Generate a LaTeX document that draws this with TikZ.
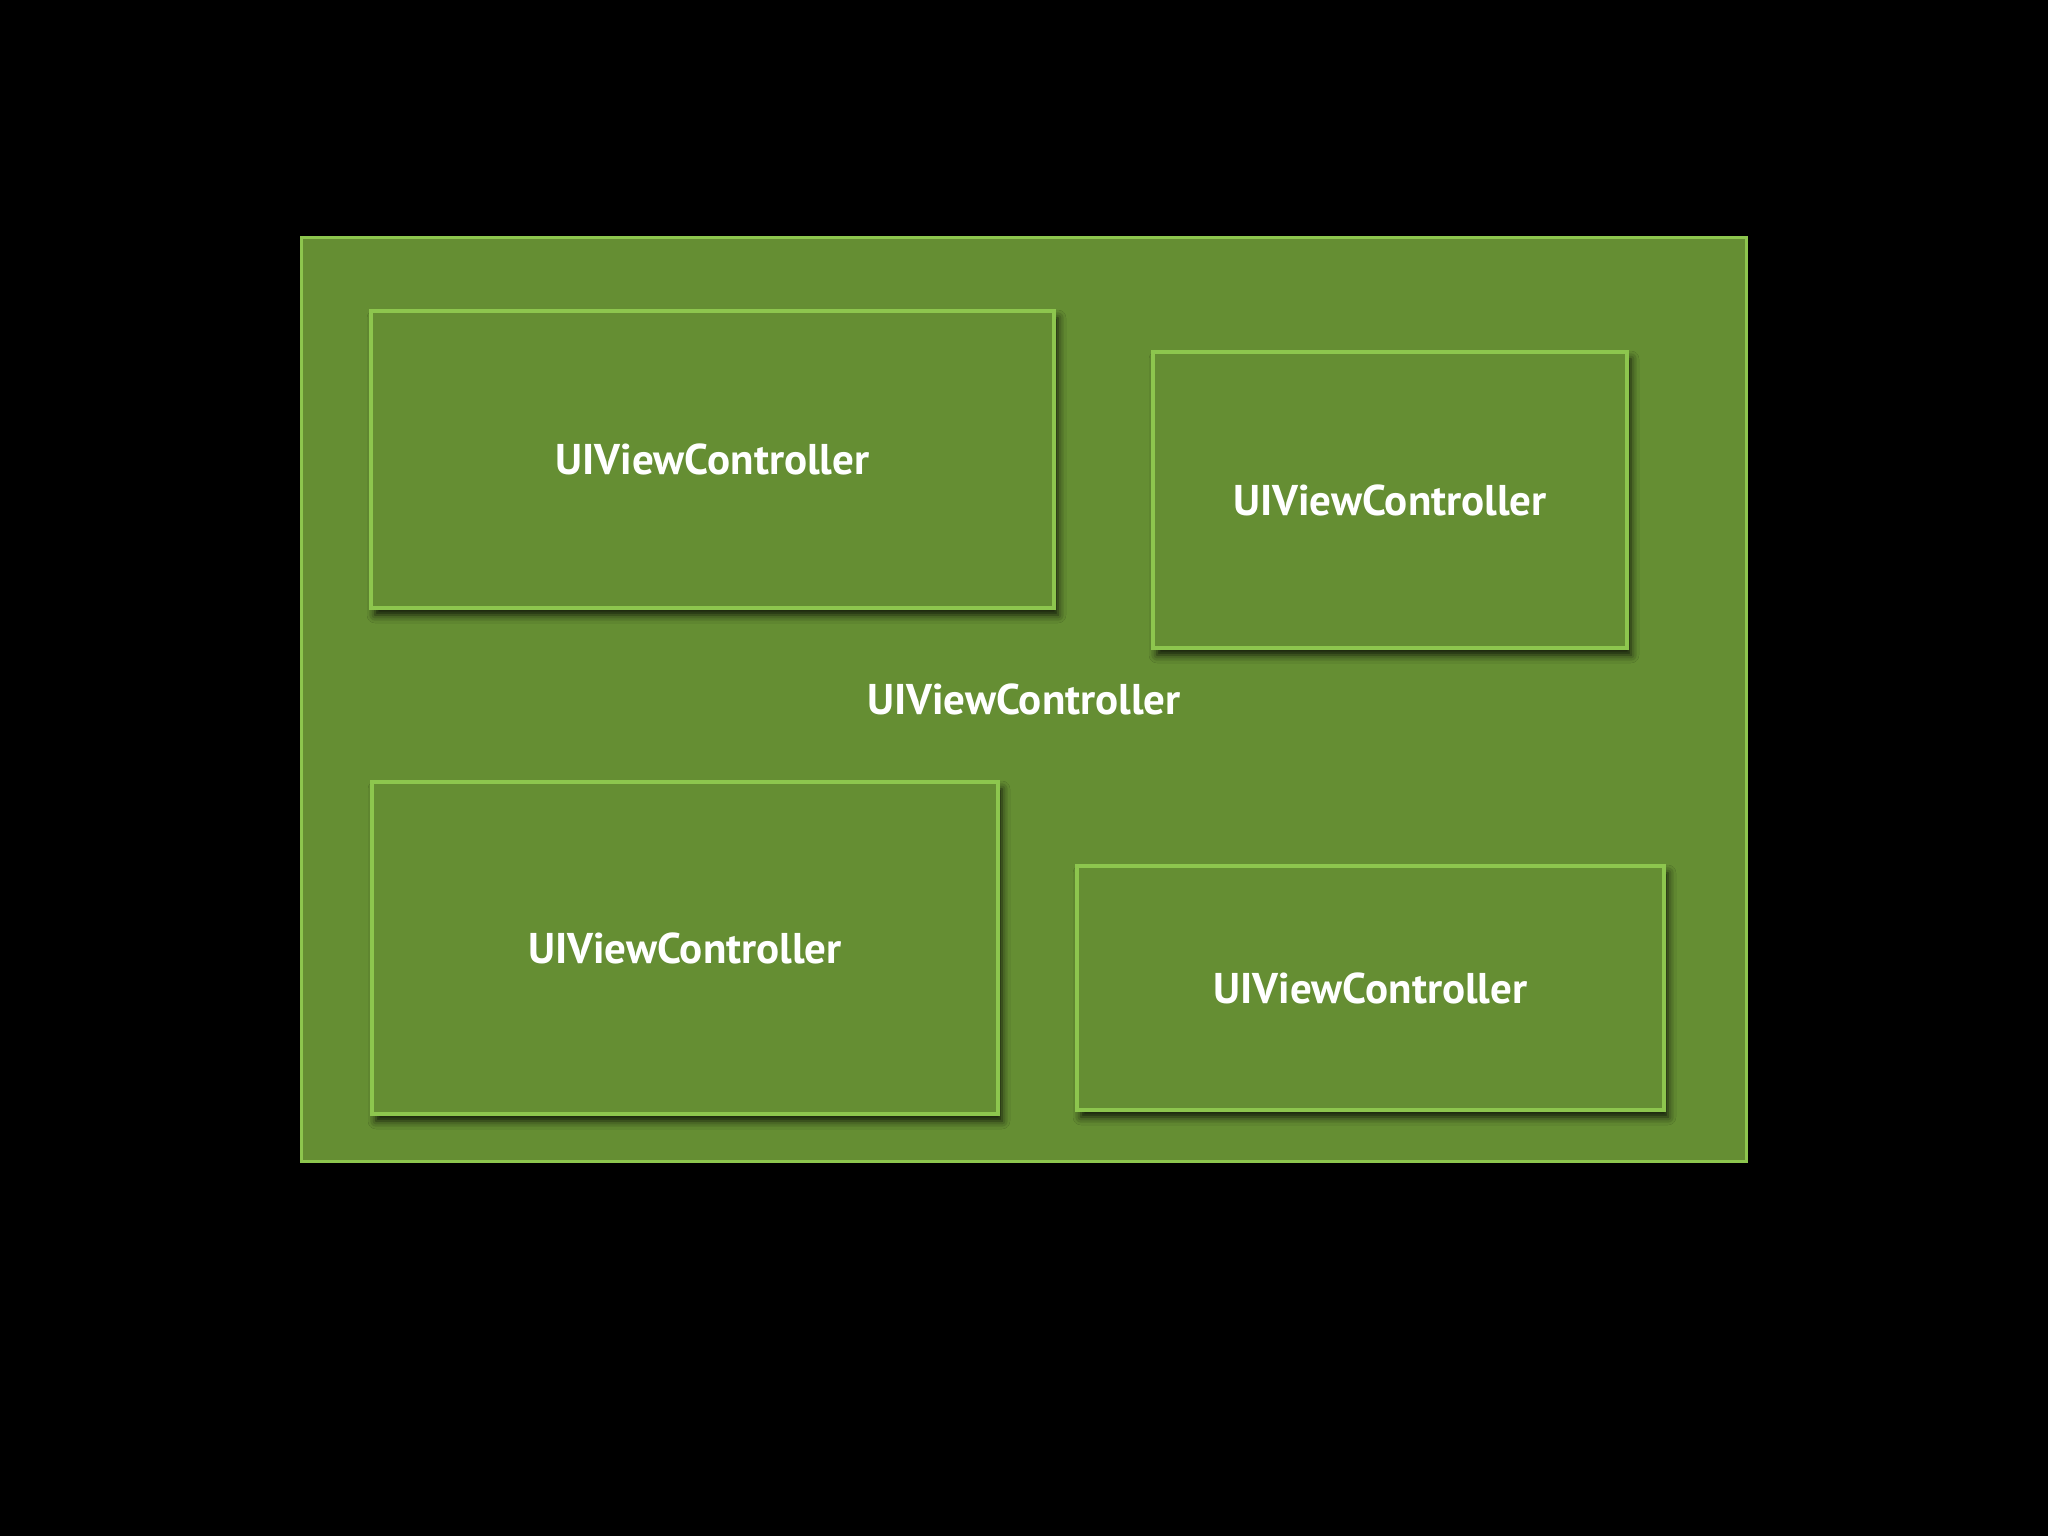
\documentclass[tikz,border=0pt]{standalone}
\usepackage{fontspec}
\setmainfont{PT Sans}
\usetikzlibrary{positioning,shadows.blur}
\definecolor{vcfill}{HTML}{658E33}
\definecolor{vcedge}{HTML}{8DC64E}

\begin{document}
\begin{tikzpicture}[x=1pt,y=-1pt] % one unit is one pixel of the slide
\tikzset{every node/.style={font=\fontsize{43}{50}\bfseries\selectfont, text=white}} % white bold labels
\tikzset{vcbox/.style={draw=vcedge, line width=3.5pt, fill=vcfill, rectangle, inner sep=0pt}} % a controller's view
\tikzset{vcshadow/.style={blur shadow={shadow xshift=4pt, shadow yshift=-7pt, shadow blur radius=8pt, shadow opacity=85}}}
\fill[black] (0,0) rectangle (2048,1536);
\useasboundingbox (0,0) rectangle (2048,1536);
\node[vcbox, minimum width=1445pt, minimum height=924pt] (parent) at (1024,699.5) {UIViewController};
\node[vcbox, vcshadow, minimum width=683pt, minimum height=297pt] (child1) at (712.5,459.5) {UIViewController};
\node[vcbox, vcshadow, minimum width=474pt, minimum height=296pt] (child2) at (1390,500) {UIViewController};
\node[vcbox, vcshadow, minimum width=626pt, minimum height=332pt] (child3) at (685,948) {UIViewController};
\node[vcbox, vcshadow, minimum width=587pt, minimum height=244pt] (child4) at (1370.5,988) {UIViewController};
\end{tikzpicture}
\end{document}
